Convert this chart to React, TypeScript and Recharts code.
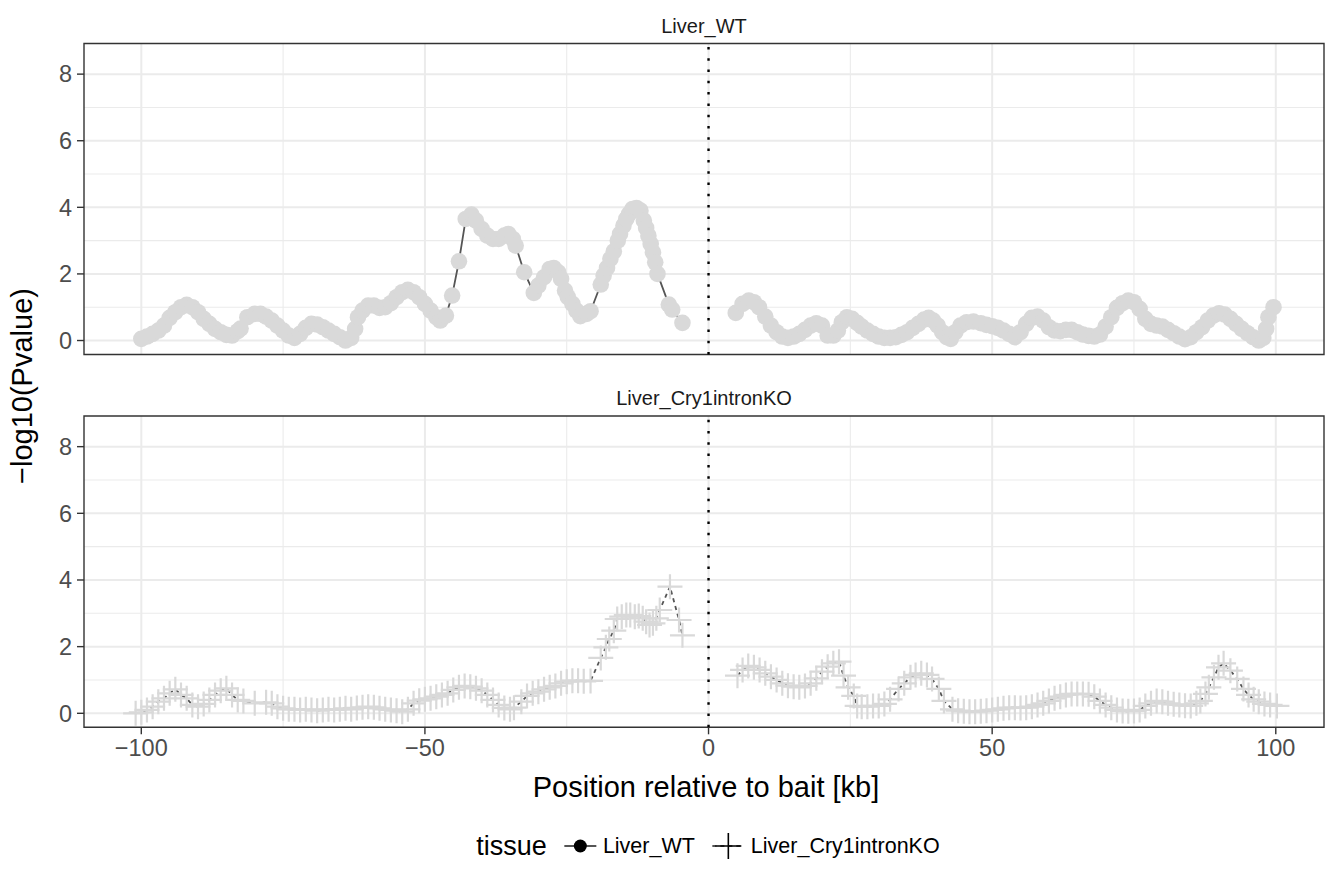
import React from "react";
import {
  CartesianGrid,
  ComposedChart,
  Line,
  ReferenceArea,
  ReferenceLine,
  XAxis,
  YAxis,
} from "recharts";

// Liver_WT, left of the bait
const wtLeftPos = [
  -100, -99, -98, -97, -96, -95, -94, -93, -92, -91,
  -90, -89, -88, -87, -86, -85, -84, -83, -82.5, -81.3,
  -80, -79, -78, -77, -76, -75, -74, -73, -72, -71,
  -70, -69, -68, -67, -66, -65, -64, -63, -62.3, -61.8,
  -61, -60, -59, -58, -57, -56, -55, -54, -53, -52,
  -51, -50, -49, -48, -47.3, -46.3, -45.2, -44, -42.8, -41.8,
  -41, -40, -39, -38, -37, -36, -35.3, -34.5, -34, -32.5,
  -30.8, -30, -29, -28, -27.3, -26.5, -26, -25.3, -24.8, -24,
  -23.3, -22.6, -21.5, -20.8, -19, -18.5, -17.9, -17.3, -16.7, -16,
  -15.6, -15, -14.5, -14, -13.4, -12.7, -12, -11.4, -11, -10.6,
  -10.2, -9.8, -9.4, -9, -7, -6.4, -4.6,
];
const wtLeftVal = [
  0.05, 0.12, 0.2, 0.3, 0.45, 0.68, 0.85, 1.0, 1.07, 1.0,
  0.85, 0.65, 0.5, 0.35, 0.25, 0.17, 0.15, 0.28, 0.36, 0.7,
  0.8, 0.8, 0.72, 0.6, 0.45, 0.3, 0.15, 0.08, 0.2, 0.38,
  0.5, 0.48, 0.4, 0.3, 0.2, 0.1, 0.0, 0.08, 0.35, 0.7,
  0.9, 1.05, 1.05, 0.98, 1.0, 1.12, 1.3, 1.45, 1.52, 1.45,
  1.3, 1.1, 0.9, 0.7, 0.6, 0.75, 1.35, 2.38, 3.65, 3.78,
  3.6, 3.35, 3.15, 3.05, 3.05, 3.15, 3.2, 3.05, 2.85, 2.05,
  1.43, 1.65, 1.9, 2.15, 2.18, 2.05, 1.85, 1.5, 1.3, 1.1,
  0.9, 0.73, 0.8, 0.88, 1.68, 1.95, 2.18, 2.45, 2.68, 3.0,
  3.2, 3.45, 3.65, 3.8, 3.95, 3.98, 3.9, 3.6, 3.38, 3.15,
  2.9, 2.65, 2.35, 2.0, 1.08, 0.93, 0.53,
];

// Liver_WT, right of the bait
const wtRightPos = [
  4.8, 6, 7.1, 8, 8.9, 10, 11, 12, 13, 14,
  15, 16, 17, 18, 19, 20, 21, 22, 22.8, 23.5,
  24.4, 25.3, 26.2, 27, 28, 29, 30, 31, 32, 33,
  34, 35, 36, 37, 38, 38.8, 39.6, 40.4, 41.2, 42,
  42.7, 43.5, 44.4, 45.5, 46.7, 48, 49, 50, 51, 52,
  53, 54, 55, 56, 57, 58, 59, 60, 61, 62,
  63, 64, 65, 66, 67, 68, 69, 70, 71, 72,
  73, 74, 75, 76, 77, 78, 79, 80, 81, 82,
  83, 84, 85, 86, 87, 88, 89, 90, 91, 92,
  93, 94, 95, 96, 97, 97.8, 98.3, 98.7, 99.6,
];
const wtRightVal = [
  0.83, 1.1, 1.2, 1.15, 1.0, 0.72, 0.45, 0.25, 0.12, 0.08,
  0.12, 0.2, 0.32, 0.45, 0.52, 0.45, 0.15, 0.15, 0.3, 0.55,
  0.7, 0.65, 0.53, 0.42, 0.3, 0.2, 0.12, 0.08, 0.08, 0.1,
  0.17, 0.25, 0.38, 0.5, 0.63, 0.68, 0.6, 0.45, 0.25, 0.1,
  0.05, 0.25, 0.45, 0.55, 0.57, 0.52, 0.47, 0.43, 0.38, 0.3,
  0.2, 0.1, 0.25, 0.5, 0.68, 0.72, 0.6, 0.4, 0.3, 0.28,
  0.32, 0.32, 0.25, 0.18, 0.14, 0.12, 0.18, 0.42, 0.7, 0.98,
  1.12, 1.2, 1.15, 0.95, 0.65, 0.5, 0.45, 0.42, 0.32, 0.22,
  0.12, 0.04, 0.1, 0.25, 0.4, 0.6, 0.75, 0.82, 0.78, 0.65,
  0.5, 0.35, 0.22, 0.1, 0.0, 0.08, 0.35, 0.7, 1.0,
];

// Liver_Cry1intronKO, left of the bait
const koLeftPos = [
  -101, -100, -99, -98, -97, -96, -95, -94, -93, -92,
  -91, -90, -89, -88, -87, -86, -85, -84, -83, -82,
  -80, -78, -77, -76, -75, -74, -73, -72, -71, -70,
  -69, -68, -67, -66, -65, -64, -63, -62, -61, -60,
  -59, -58, -57, -56, -55, -54, -53, -52, -51, -50,
  -49, -48, -47, -46, -45, -44, -43, -42, -41, -40,
  -39, -38, -37, -36, -35, -34.3, -33, -32, -31, -30,
  -29, -28, -27, -26, -25, -24, -23, -22, -20.8, -19,
  -18.1, -17.5, -16.7, -16.1, -15.3, -14.5, -13.8, -13, -12.3, -11.6,
  -11, -10.4, -9.8, -9.2, -8.6, -6.8, -5.2, -4.6,
];
const koLeftVal = [
  0.0, 0.03, 0.1, 0.2, 0.35, 0.45, 0.6, 0.72, 0.55, 0.45,
  0.25, 0.2, 0.28, 0.4, 0.55, 0.68, 0.75, 0.55, 0.4, 0.37,
  0.3, 0.33, 0.3, 0.2, 0.15, 0.12, 0.12, 0.1, 0.12, 0.1,
  0.08, 0.1, 0.12, 0.1, 0.12, 0.15, 0.12, 0.16, 0.18, 0.2,
  0.18, 0.15, 0.12, 0.1, 0.08, 0.05, 0.12, 0.3, 0.38, 0.42,
  0.45, 0.5, 0.55, 0.6, 0.7, 0.78, 0.82, 0.8, 0.75, 0.68,
  0.55, 0.4, 0.25, 0.16, 0.12, 0.17, 0.35, 0.52, 0.6, 0.65,
  0.72, 0.78, 0.82, 0.9, 0.95, 0.98, 0.98, 0.96, 0.97, 1.66,
  1.98, 2.23, 2.48, 2.83, 2.9, 2.95, 2.95, 2.9, 2.92, 2.85,
  2.75, 2.65, 2.7, 2.85, 3.1, 3.8, 2.8, 2.34,
];

// Liver_Cry1intronKO, right of the bait
const koRightPos = [
  5.1, 6, 7, 8, 9, 10, 11, 12, 13, 14,
  15, 16, 17, 18, 19, 20, 21, 22, 23, 23.8,
  24.6, 25.6, 26.2, 27, 28, 29, 30, 31, 32, 33.5,
  34.5, 35.6, 36.5, 37.5, 38.5, 39.4, 40.6, 41.5, 43, 44,
  45, 46, 47, 48, 49, 50, 51, 52, 53, 54,
  55, 56, 57, 58, 59, 60, 61, 62, 63, 64,
  65, 66, 67, 68, 69, 70, 71, 72, 73, 74,
  75, 76, 77, 78, 79, 80, 81, 82, 83, 84,
  85, 86, 86.7, 87.6, 88.2, 89.1, 89.9, 90.8, 92, 93.2,
  94.3, 95.2, 96.1, 97, 98, 99, 100.2,
];
const koRightVal = [
  1.13, 1.3, 1.42, 1.38, 1.3, 1.2, 1.1, 1.0, 0.9, 0.83,
  0.8, 0.78, 0.82, 0.9, 1.05, 1.25, 1.4, 1.5, 1.55, 1.13,
  0.78, 0.52, 0.22, 0.2, 0.2, 0.22, 0.22, 0.28, 0.42, 0.73,
  0.9, 1.08, 1.15, 1.2, 1.15, 1.03, 0.73, 0.37, 0.12, 0.08,
  0.06, 0.05, 0.05, 0.06, 0.08, 0.1, 0.12, 0.15, 0.17, 0.17,
  0.16, 0.17, 0.2, 0.25, 0.3, 0.37, 0.45, 0.5, 0.55, 0.58,
  0.58, 0.58, 0.57, 0.5, 0.37, 0.25, 0.17, 0.1, 0.07, 0.06,
  0.07, 0.1, 0.22, 0.3, 0.37, 0.35, 0.3, 0.27, 0.25, 0.23,
  0.22, 0.3, 0.37, 0.58, 0.78, 1.08, 1.38, 1.5, 1.28, 1.03,
  0.73, 0.55, 0.42, 0.35, 0.28, 0.25, 0.22,
];

const xTicks = [-100, -50, 0, 50, 100];
const xMinor = [-75, -25, 25, 75];
const yTicks = [0, 2, 4, 6, 8];
const yMinor = [1, 3, 5, 7];

const X_DOMAIN: [number, number] = [-110.1, 108.5];
const Y_DOMAIN: [number, number] = [-0.42, 8.92];

const FONT = '"Liberation Sans", Arial, Helvetica, sans-serif';
const POINT = "#D9D9D9";
const LINE = "#555555";

const toRows = (pos: number[], val: number[]) =>
  pos.map((x, i) => ({ x, y: val[i] }));

const fmt = (v: number) => String(v).replace("-", "\u2212");

function CircleDot(props: any) {
  const { cx, cy, index } = props;
  if (cx == null || cy == null) return <g key={index} />;
  return <circle key={index} cx={cx} cy={cy} r={8.3} fill={POINT} />;
}

function PlusDot(props: any) {
  const { cx, cy, index } = props;
  if (cx == null || cy == null) return <g key={index} />;
  return (
    <path
      key={index}
      d={`M${cx - 12.5},${cy}h25M${cx},${cy - 12.5}v25`}
      stroke={POINT}
      strokeWidth={2.2}
      strokeDasharray="none"
      fill="none"
    />
  );
}

interface PanelProps {
  series: { x: number; y: number }[][];
  kind: "circle" | "plus";
  showX: boolean;
  height: number;
  margin: { top: number; right: number; bottom: number; left: number };
}

function Panel({ series, kind, showX, height, margin }: PanelProps) {
  return (
    <ComposedChart width={1326} height={height} margin={margin}>
      <CartesianGrid
        horizontalValues={yMinor}
        verticalValues={xMinor}
        stroke="#EBEBEB"
        strokeWidth={1.1}
      />
      <CartesianGrid
        horizontalValues={yTicks}
        verticalValues={xTicks}
        stroke="#EBEBEB"
        strokeWidth={2}
      />
      <XAxis
        type="number"
        dataKey="x"
        domain={X_DOMAIN}
        ticks={xTicks}
        allowDataOverflow
        hide={!showX}
        height={35}
        axisLine={false}
        tickLine={{ stroke: "#333333", strokeWidth: 1.4 }}
        tickSize={7}
        tickMargin={5}
        tickFormatter={fmt}
        tick={{ fill: "#4D4D4D", fontSize: 23.5, fontFamily: FONT }}
      />
      <YAxis
        type="number"
        domain={Y_DOMAIN}
        ticks={yTicks}
        allowDataOverflow
        width={84}
        axisLine={false}
        tickLine={{ stroke: "#333333", strokeWidth: 1.4 }}
        tickSize={7}
        tickMargin={5}
        tick={{ fill: "#4D4D4D", fontSize: 23.5, fontFamily: FONT }}
      />
      {series.map((d, i) => (
        <Line
          key={i}
          data={d}
          dataKey="y"
          type="linear"
          stroke={LINE}
          strokeWidth={1.8}
          strokeDasharray={kind === "plus" ? "4 4" : undefined}
          dot={kind === "plus" ? PlusDot : CircleDot}
          activeDot={false}
          isAnimationActive={false}
        />
      ))}
      <ReferenceLine
        x={0}
        stroke="#000000"
        strokeWidth={2.4}
        strokeDasharray="2.5 8.8"
      />
      <ReferenceArea
        x1={X_DOMAIN[0]}
        x2={X_DOMAIN[1]}
        y1={Y_DOMAIN[0]}
        y2={Y_DOMAIN[1]}
        fill="none"
        fillOpacity={0}
        stroke="#333333"
        strokeWidth={1.4}
      />
    </ComposedChart>
  );
}

function LegendKey({ kind }: { kind: "circle" | "plus" }) {
  return (
    <svg width={36} height={36} style={{ display: "block" }}>
      <line
        x1={2}
        x2={34}
        y1={18}
        y2={18}
        stroke={LINE}
        strokeWidth={1.8}
        strokeDasharray={kind === "plus" ? "4 4" : undefined}
      />
      {kind === "circle" ? (
        <circle cx={18} cy={18} r={6.5} fill="#000000" />
      ) : (
        <path d="M5,18h26M18,5v26" stroke="#000000" strokeWidth={1.6} />
      )}
    </svg>
  );
}

export default function App() {
  const wt = [toRows(wtLeftPos, wtLeftVal), toRows(wtRightPos, wtRightVal)];
  const ko = [toRows(koLeftPos, koLeftVal), toRows(koRightPos, koRightVal)];

  const center: React.CSSProperties = {
    position: "absolute",
    transform: "translate(-50%, -50%)",
    whiteSpace: "nowrap",
  };

  return (
    <div
      style={{
        position: "absolute",
        left: 0,
        top: 0,
        width: 1326,
        height: 883,
        background: "#ffffff",
        fontFamily: FONT,
      }}
    >
      <div style={{ position: "absolute", left: 0, top: 0 }}>
        <Panel
          series={wt}
          kind="circle"
          showX={false}
          height={360}
          margin={{ top: 43.5, right: 2, bottom: 5.5, left: 0 }}
        />
      </div>
      <div style={{ position: "absolute", left: 0, top: 360 }}>
        <Panel
          series={ko}
          kind="plus"
          showX
          height={440}
          margin={{ top: 56, right: 2, bottom: 37.7, left: 0 }}
        />
      </div>

      <div style={{ ...center, left: 704, top: 26, fontSize: 20, color: "#1A1A1A" }}>
        Liver_WT
      </div>
      <div style={{ ...center, left: 704, top: 398, fontSize: 20, color: "#1A1A1A" }}>
        Liver_Cry1intronKO
      </div>

      <div
        style={{
          ...center,
          left: 22,
          top: 386,
          fontSize: 29,
          color: "#000000",
          transform: "translate(-50%, -50%) rotate(-90deg)",
        }}
      >
        {"\u2212log10(Pvalue)"}
      </div>
      <div style={{ ...center, left: 706, top: 787, fontSize: 29, color: "#000000" }}>
        Position relative to bait [kb]
      </div>

      <div
        style={{
          ...center,
          left: 708,
          top: 846,
          display: "flex",
          alignItems: "center",
          gap: 5,
          fontSize: 21.5,
          color: "#000000",
        }}
      >
        <span style={{ fontSize: 27, marginRight: 10 }}>tissue</span>
        <LegendKey kind="circle" />
        <span style={{ marginRight: 10 }}>Liver_WT</span>
        <LegendKey kind="plus" />
        <span>Liver_Cry1intronKO</span>
      </div>
    </div>
  );
}
